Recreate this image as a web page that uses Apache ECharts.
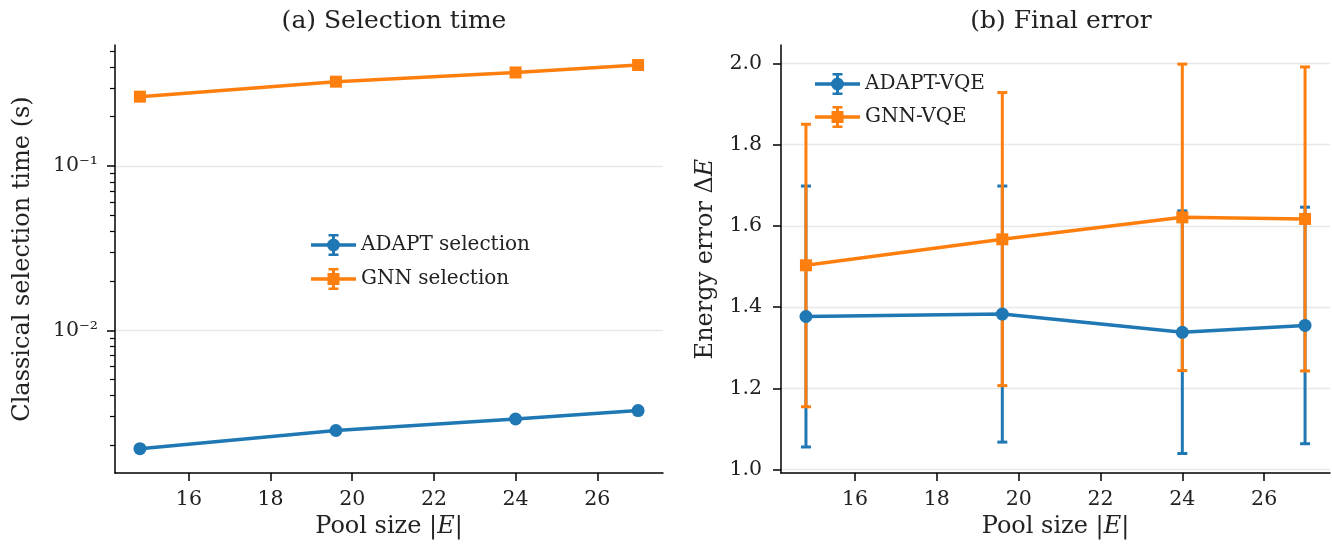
<!DOCTYPE html>
<html>
<head>
<meta charset="utf-8">
<script src="https://cdn.jsdelivr.net/npm/echarts@6/dist/echarts.min.js"></script>
<style>
  html, body { margin: 0; padding: 0; background: #fff; }
  #main { width: 1332px; height: 548px; }
</style>
</head>
<body>
<div id="main"></div>
<script>
// data
var poolSize = [14.8, 19.6, 24, 27];

// (a) classical selection time, seconds
var adaptTime = [0.0019, 0.00245, 0.00288, 0.00324];
var gnnTime = [0.265, 0.327, 0.372, 0.413];

// (b) final energy error, mean with error bar ends
var adaptErr = [1.377, 1.383, 1.338, 1.355];
var adaptLow = [1.056, 1.068, 1.040, 1.064];
var adaptHigh = [1.698, 1.698, 1.637, 1.646];
var gnnErr = [1.503, 1.567, 1.621, 1.617];
var gnnLow = [1.155, 1.207, 1.244, 1.243];
var gnnHigh = [1.850, 1.928, 1.998, 1.991];

var xTicks = [16, 18, 20, 22, 24, 26];
var logMajor = [0.01, 0.1];
var logMinor = [0.002, 0.003, 0.004, 0.005, 0.006, 0.007, 0.008, 0.009,
                0.02, 0.03, 0.04, 0.05, 0.06, 0.07, 0.08, 0.09,
                0.2, 0.3, 0.4, 0.5];
var errTicks = [1.0, 1.2, 1.4, 1.6, 1.8, 2.0];

var blue = '#1f77b4';
var orange = '#ff7f0e';
var font = 'DejaVu Serif';
var sup = {'-': '⁻', '0': '⁰', '1': '¹', '2': '²', '3': '³'};

function log10(v) { return Math.log(v) / Math.LN10; }
function pairs(xs, ys, f) {
    return xs.map(function (x, i) { return [x, f ? f(ys[i]) : ys[i]]; });
}
function bars(xs, lo, hi) {
    return xs.map(function (x, i) { return [x, lo[i], hi[i]]; });
}
function errorItem(color) {
    return function (params, api) {
        var lo = api.coord([api.value(0), api.value(1)]);
        var hi = api.coord([api.value(0), api.value(2)]);
        var w = 5;
        var st = {stroke: color, lineWidth: 3};
        return {
            type: 'group',
            children: [
                {type: 'line', shape: {x1: lo[0], y1: lo[1], x2: hi[0], y2: hi[1]}, style: st},
                {type: 'line', shape: {x1: lo[0] - w, y1: lo[1], x2: lo[0] + w, y2: lo[1]}, style: st},
                {type: 'line', shape: {x1: hi[0] - w, y1: hi[1], x2: hi[0] + w, y2: hi[1]}, style: st}
            ]
        };
    };
}

// legend icons: line + error bar + marker (all subpaths clockwise)
var iconBase = 'M0 9.25H45V12.75H0Z M21 1.2H24V20.8H21Z M17.5 0H27.5V2.5H17.5Z M17.5 19.5H27.5V22H17.5Z ';
var iconCircle = 'path://' + iconBase + 'M16 11A6.5 6.5 0 1 1 29 11A6.5 6.5 0 1 1 16 11Z';
var iconSquare = 'path://' + iconBase + 'M16.5 5H28.5V17H16.5Z';

var tickLbl = {fontFamily: font, fontSize: 20.5, color: '#222'};
var nameStyle = {fontFamily: font, fontSize: 24, color: '#222'};
var nameItalic = {fontFamily: font, fontSize: 24, fontStyle: 'italic', color: '#222'};
var legendText = {fontFamily: font, fontSize: 20, color: '#222'};
var logMin = log10(0.00135), logMax = log10(0.547);
var xMin = 14.19, xMax = 27.61;
var errMin = 0.992, errMax = 2.045;
var gridStyle = {color: '#e8e8e8', width: 1.4};

function spine() { return {show: true, lineStyle: {color: '#000', width: 1.5}}; }

// tick marks live on their own line-less axes, stacked on the spines;
// the major ones also carry the grid lines so these follow the same values
function tickAxis(grid, pos, min, max, values, len, width, withGrid) {
    return {
        type: 'value', gridIndex: grid, position: pos, min: min, max: max,
        axisLine: {show: false},
        axisTick: {show: true, customValues: values, length: len, lineStyle: {color: '#000', width: width}},
        axisLabel: {show: false},
        splitLine: {show: !!withGrid, lineStyle: gridStyle}
    };
}

function xAxisFor(idx) {
    return {
        type: 'value', gridIndex: idx, position: 'bottom', min: xMin, max: xMax,
        name: '{n|Pool size |}{i|E}{n||}', nameLocation: 'middle', nameGap: 39,
        nameTextStyle: {rich: {n: nameStyle, i: nameItalic}},
        axisLine: spine(),
        axisTick: {show: false},
        axisLabel: Object.assign({customValues: xTicks, margin: 16}, tickLbl),
        splitLine: {show: false}
    };
}

var myChart = echarts.init(document.getElementById('main'));

var option = {
    backgroundColor: '#fff',
    animation: false,
    title: [
        {text: '(a) Selection time', left: 389, top: 4, textAlign: 'center',
         textStyle: {fontFamily: font, fontSize: 25, fontWeight: 'normal', color: '#222'}},
        {text: '(b) Final error', left: 1056, top: 4, textAlign: 'center',
         textStyle: {fontFamily: font, fontSize: 25, fontWeight: 'normal', color: '#222'}}
    ],
    grid: [
        {left: 115, top: 45, width: 548, height: 428},
        {left: 781, top: 45, width: 549, height: 428}
    ],
    legend: [
        {data: [{name: 'ADAPT selection', icon: iconCircle}, {name: 'GNN selection', icon: iconSquare}],
         left: 306, top: 229, orient: 'vertical', itemGap: 12, itemWidth: 45, itemHeight: 22,
         textStyle: legendText},
        {data: [{name: 'ADAPT-VQE', icon: iconCircle}, {name: 'GNN-VQE', icon: iconSquare}],
         left: 810, top: 68, orient: 'vertical', itemGap: 11, itemWidth: 45, itemHeight: 22,
         textStyle: legendText}
    ],
    xAxis: [
        xAxisFor(0),
        xAxisFor(1),
        tickAxis(0, 'bottom', xMin, xMax, xTicks, 8, 1.5, false),
        tickAxis(1, 'bottom', xMin, xMax, xTicks, 8, 1.5, false)
    ],
    yAxis: [
        {
            type: 'value', gridIndex: 0, position: 'left', min: logMin, max: logMax,
            name: 'Classical selection time (s)', nameLocation: 'middle', nameGap: 80,
            nameTextStyle: nameStyle,
            axisLine: spine(),
            axisTick: {show: false},
            axisLabel: Object.assign({
                customValues: logMajor.map(log10), margin: 17,
                formatter: function (v) {
                    var e = String(Math.round(v));
                    return '10' + e.split('').map(function (c) { return sup[c]; }).join('');
                }
            }, tickLbl),
            splitLine: {show: false}
        },
        {
            type: 'value', gridIndex: 1, position: 'left', min: errMin, max: errMax,
            name: '{n|Energy error Δ}{i|E}', nameLocation: 'middle', nameGap: 63,
            nameTextStyle: {rich: {n: nameStyle, i: nameItalic}},
            axisLine: spine(),
            axisTick: {show: false},
            axisLabel: Object.assign({customValues: errTicks, margin: 19,
                formatter: function (v) { return v.toFixed(1); }}, tickLbl),
            splitLine: {show: false}
        },
        tickAxis(0, 'left', logMin, logMax, logMinor.map(log10), 5, 1.2, false),
        tickAxis(0, 'left', logMin, logMax, logMajor.map(log10), 8, 1.5, true),
        tickAxis(1, 'left', errMin, errMax, errTicks, 8, 1.5, true)
    ],
    series: [
        {
            name: 'ADAPT selection', type: 'line', xAxisIndex: 0, yAxisIndex: 0,
            data: pairs(poolSize, adaptTime, log10), color: blue,
            symbol: 'circle', symbolSize: 13, lineStyle: {width: 3.5, color: blue},
            itemStyle: {color: blue}, z: 3
        },
        {
            name: 'GNN selection', type: 'line', xAxisIndex: 0, yAxisIndex: 0,
            data: pairs(poolSize, gnnTime, log10), color: orange,
            symbol: 'rect', symbolSize: 12, lineStyle: {width: 3.5, color: orange},
            itemStyle: {color: orange}, z: 3
        },
        {
            name: 'adapt-bars', type: 'custom', xAxisIndex: 1, yAxisIndex: 1,
            data: bars(poolSize, adaptLow, adaptHigh), renderItem: errorItem(blue), z: 2
        },
        {
            name: 'gnn-bars', type: 'custom', xAxisIndex: 1, yAxisIndex: 1,
            data: bars(poolSize, gnnLow, gnnHigh), renderItem: errorItem(orange), z: 2
        },
        {
            name: 'ADAPT-VQE', type: 'line', xAxisIndex: 1, yAxisIndex: 1,
            data: pairs(poolSize, adaptErr), color: blue,
            symbol: 'circle', symbolSize: 13, lineStyle: {width: 3.5, color: blue},
            itemStyle: {color: blue}, z: 3
        },
        {
            name: 'GNN-VQE', type: 'line', xAxisIndex: 1, yAxisIndex: 1,
            data: pairs(poolSize, gnnErr), color: orange,
            symbol: 'rect', symbolSize: 12, lineStyle: {width: 3.5, color: orange},
            itemStyle: {color: orange}, z: 3
        }
    ]
};
myChart.setOption(option);
</script>
</body>
</html>
